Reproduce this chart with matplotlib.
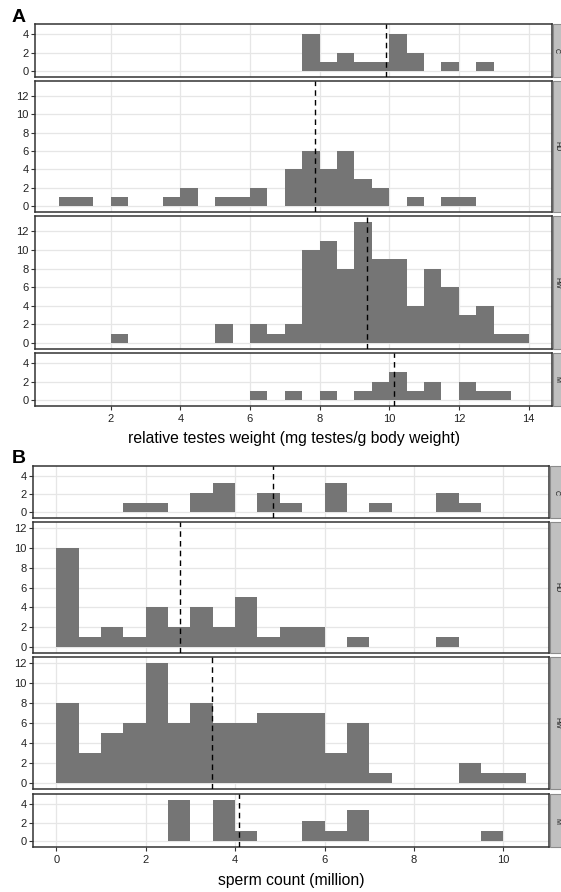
import numpy as np
import matplotlib
matplotlib.use("Agg")
import matplotlib.pyplot as plt
from matplotlib.patches import Rectangle

plt.rcParams['font.family'] = ['Liberation Sans', 'DejaVu Sans']

# ---------------- data ----------------
facets = ["C", "HD", "HW", "M"]

# Panel A: relative testes weight, bins of 0.5 starting at 0.5
A_bin_left = [0.5, 1.0, 1.5, 2.0, 2.5, 3.0, 3.5, 4.0, 4.5, 5.0, 5.5, 6.0, 6.5, 7.0,
              7.5, 8.0, 8.5, 9.0, 9.5, 10.0, 10.5, 11.0, 11.5, 12.0, 12.5, 13.0, 13.5]
A_C  = [0, 0, 0, 0, 0, 0, 0, 0, 0, 0, 0, 0, 0, 0, 4, 1, 2, 1, 1, 4, 2, 0, 1, 0, 1, 0, 0]
A_HD = [1, 1, 0, 1, 0, 0, 1, 2, 0, 1, 1, 2, 0, 4, 6, 4, 6, 3, 2, 0, 1, 0, 1, 1, 0, 0, 0]
A_HW = [0, 0, 0, 1, 0, 0, 0, 0, 0, 2, 0, 2, 1, 2, 10, 11, 8, 13, 9, 9, 4, 8, 6, 3, 4, 1, 1]
A_M  = [0, 0, 0, 0, 0, 0, 0, 0, 0, 0, 0, 1, 0, 1, 0, 1, 0, 1, 2, 3, 1, 2, 0, 2, 1, 1, 0]
A_means = [9.91, 7.87, 9.37, 10.14]
A_xticks = [2, 4, 6, 8, 10, 12, 14]
A_xlabel = "relative testes weight (mg testes/g body weight)"

# Panel B: sperm count, bins of 0.5 starting at 0
B_bin_left = [0.0, 0.5, 1.0, 1.5, 2.0, 2.5, 3.0, 3.5, 4.0, 4.5, 5.0, 5.5, 6.0, 6.5,
              7.0, 7.5, 8.0, 8.5, 9.0, 9.5, 10.0]
B_C  = [0, 0, 0, 1.05, 1.05, 0, 2.1, 3.15, 0, 2.1, 1.05, 0, 3.15, 0, 1.05, 0, 0, 2.1, 1.05, 0, 0]
B_HD = [10, 1, 2, 1, 4, 2, 4, 2, 5, 1, 2, 2, 0, 1, 0, 0, 0, 1, 0, 0, 0]
B_HW = [8, 3, 5, 6, 12, 6, 8, 6, 6, 7, 7, 7, 3, 6, 1, 0, 0, 0, 2, 1, 1]
B_M  = [0, 0, 0, 0, 0, 4.4, 0, 4.4, 1.1, 0, 0, 2.2, 1.1, 3.3, 0, 0, 0, 0, 0, 1.1, 0]
B_means = [4.84, 2.77, 3.48, 4.09]
B_xticks = [0, 2, 4, 6, 8, 10]
B_xlabel = "sperm count (million)"

BIN_W = 0.5

# ---------------- layout (pixels) ----------------
W, H = 561, 892
fig = plt.figure(figsize=(W / 100, H / 100), dpi=100)

A_x = (35, 552)
A_rows = [(24, 77), (81, 212), (216, 349), (353, 406)]
B_x = (33, 549)
B_rows = [(466, 518), (522, 653), (657, 789), (794, 847)]

small_ylim = (-0.6, 5.05)
A_big_ylim = (-0.65, 13.65)
B_big_ylim = (-0.6, 12.6)

A_xlim = (0.5 - 0.675, 14 + 0.675)
B_xlim = (0 - 0.525, 10.5 + 0.525)

fill = '#757575'
grid_c = '#e6e6e6'
border_c = '#333333'


def make_panel(xr, rows, bins, series, means, ylims, xlim, xticks, xlabel, letter, xlab_y, let_y):
    for i, (name, counts, mu, yl) in enumerate(zip(facets, series, means, ylims)):
        top, bot = rows[i]
        ax = fig.add_axes([xr[0] / W, 1 - bot / H, (xr[1] - xr[0]) / W, (bot - top) / H])
        ax.set_xlim(*xlim)
        ax.set_ylim(*yl)
        xs = [b for b, c in zip(bins, counts) if c > 0]
        cs = [c for c in counts if c > 0]
        ax.bar(xs, cs, width=BIN_W, align='edge', color=fill, edgecolor='none',
               linewidth=0, zorder=2)
        ax.axvline(mu, color='black', linestyle=(0, (4, 3)), linewidth=1.0, zorder=3)
        if yl[1] > 8:
            yt = [0, 2, 4, 6, 8, 10, 12]
        else:
            yt = [0, 2, 4]
        ax.set_yticks(yt)
        ax.set_xticks(xticks)
        ax.grid(True, color=grid_c, linewidth=0.9, zorder=0)
        ax.set_axisbelow(True)
        for s in ax.spines.values():
            s.set_color(border_c)
            s.set_linewidth(1.1)
        ax.tick_params(axis='y', length=3, width=0.8, color='#333333',
                       labelsize=8, labelcolor='#222222', pad=1.5)
        if i == 3:
            ax.tick_params(axis='x', length=3, width=0.8, color='#333333',
                           labelsize=8, labelcolor='#222222', pad=2.5)
        else:
            ax.tick_params(axis='x', length=0, labelbottom=False)
        # facet strip (cut off by figure edge)
        sx0 = (xr[1] + 1) / W
        strip = Rectangle((sx0, 1 - bot / H), 20 / W, (bot - top) / H,
                          transform=fig.transFigure, facecolor='#c0c0c0',
                          edgecolor='#8c8c8c', linewidth=0.8, clip_on=False)
        fig.patches.append(strip)
        fig.text((W - 4.5) / W, 1 - ((top + bot) / 2) / H, name, rotation=-90,
                 ha='center', va='center', fontsize=5, color='#1a1a1a')
    fig.text(((xr[0] + xr[1]) / 2) / W, 1 - xlab_y / H, xlabel, ha='center',
             va='center', fontsize=11.3, color='black')
    fig.text(12 / W, 1 - let_y / H, letter, ha='left', va='center',
             fontsize=14, fontweight='bold')


make_panel(A_x, A_rows, A_bin_left, [A_C, A_HD, A_HW, A_M], A_means,
           [small_ylim, A_big_ylim, A_big_ylim, small_ylim], A_xlim, A_xticks,
           A_xlabel, "A", 438, 17)
make_panel(B_x, B_rows, B_bin_left, [B_C, B_HD, B_HW, B_M], B_means,
           [small_ylim, B_big_ylim, B_big_ylim, small_ylim], B_xlim, B_xticks,
           B_xlabel, "B", 880, 458)

fig.savefig("out.png", dpi=100)
